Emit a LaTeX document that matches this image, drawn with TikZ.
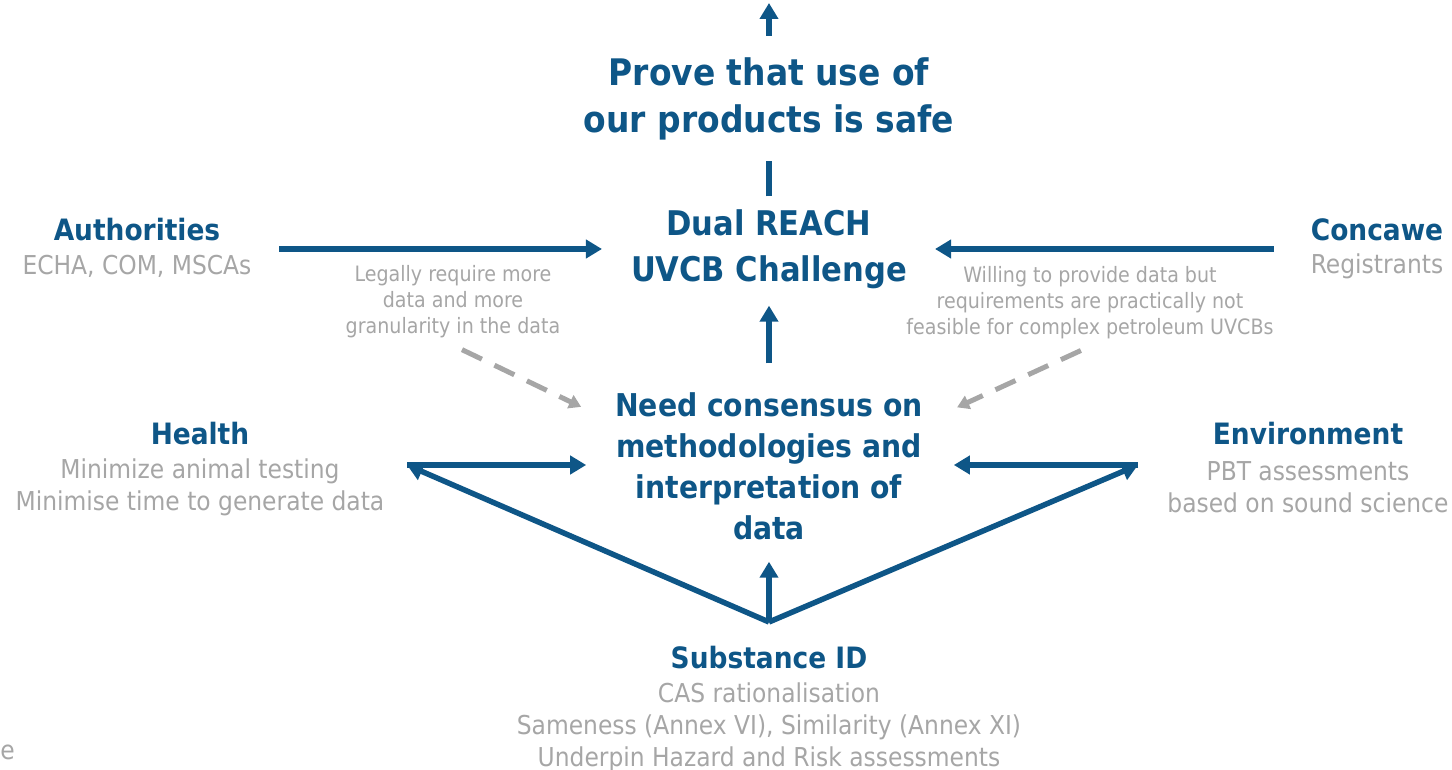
\documentclass[tikz,border=0pt]{standalone}
\usepackage{fontspec}
\setmainfont{DejaVu Sans Condensed}[BoldFont={DejaVu Sans Condensed Bold}]
\usepackage{tikz}
\usetikzlibrary{calc}
\usetikzlibrary{arrows.meta}
\usetikzlibrary{positioning}
\definecolor{reachblue}{HTML}{0E5687}
\definecolor{notegray}{HTML}{A6A6A6}

\begin{document}
\begin{tikzpicture}[x=0.5pt, y=-0.5pt,
  bigtitle/.style={text=reachblue, align=center, font=\bfseries\fontsize{18.3}{23.5}\selectfont},
  midtitle/.style={text=reachblue, align=center, font=\bfseries\fontsize{15.7}{20.5}\selectfont},
  head/.style={text=reachblue, font=\bfseries\fontsize{14.7}{17}\selectfont},
  note/.style={text=notegray, align=center, font=\fontsize{13}{16}\selectfont},
  smallnote/.style={text=notegray, align=center, font=\fontsize{10.6}{13}\selectfont},
  link/.style={draw=reachblue, line width=2.75pt, -{Triangle[width=9pt,length=8pt]}},
  hint/.style={draw=notegray, line width=2.5pt, dash pattern=on 11pt off 7pt, -{Triangle[width=7pt,length=6pt]}}]

\useasboundingbox (0,0) rectangle (1452,770);

% centre column
\node[bigtitle, font=\bfseries\fontsize{17}{23}\selectfont] (dual) at (769,249) {Dual REACH\\UVCB Challenge};
\node[midtitle] (need) at (769,466) {Need consensus on\\methodologies and\\interpretation of\\data};
\node[head] (subst) at (769,658) {Substance ID};
\node[note] (substnote) at (769,727) {CAS rationalisation\\Sameness (Annex VI), Similarity (Annex XI)\\Underpin Hazard and Risk assessments};

% the four parties
\node[head] (auth) at (137,230) {Authorities};
\node[note] (authnote) at (137,266) {ECHA, COM, MSCAs};
\node[head] (conc) at (1377,230) {Concawe};
\node[note] (concnote) at (1377,266) {Registrants};
\node[head] (health) at (200,434) {Health};
\node[note] (healthnote) at (200,487) {Minimize animal testing\\Minimise time to generate data};
\node[head] (env) at (1308,434) {Environment};
\node[note] (envnote) at (1308,487) {PBT assessments\\based on sound science};

\node[smallnote] (legal) at (453,302) {Legally require more\\data and more\\granularity in the data};
\node[smallnote] (willing) at (1090,303) {Willing to provide data but\\requirements are practically not\\feasible for complex petroleum UVCBs};
\node[note, anchor=west, inner sep=0] (stray) at (0,752) {e};

\coordinate (top) at (769,3);
\coordinate (fork) at (769,622);
\coordinate (hl) at (407,465);
\coordinate (er) at (1138,465);

% arrows
\draw[link, shorten <=3pt] (dual.north) -- (top);
\node[bigtitle, fill=white, minimum height=62.5pt] (prove) at (769,99) {Prove that use of\\our products is safe};

\draw[link, shorten <=26pt, shorten >=11pt] (auth.east |- dual.west) -- (dual.west);
\draw[link, shorten <=15pt, shorten >=10.5pt] (conc.west |- dual.east) -- (dual.east);
\draw[link, shorten <=11pt, shorten >=5pt] (need.north) -- (dual.south);

\draw[link, shorten >=11pt] (hl) -- (hl -| need.west);
\draw[link, shorten >=12pt] (er) -- (er -| need.east);
\draw[link] (fork) -- (hl);
\draw[link] (fork) -- (er);
\draw[link, shorten >=7.5pt] (fork) -- (need.south);

\draw[hint, shorten <=5pt, shorten >=15pt] (legal.south) -- (need.164);
\draw[hint, shorten <=5pt, shorten >=15pt] (willing.south) -- (need.16);
\end{tikzpicture}
\end{document}
